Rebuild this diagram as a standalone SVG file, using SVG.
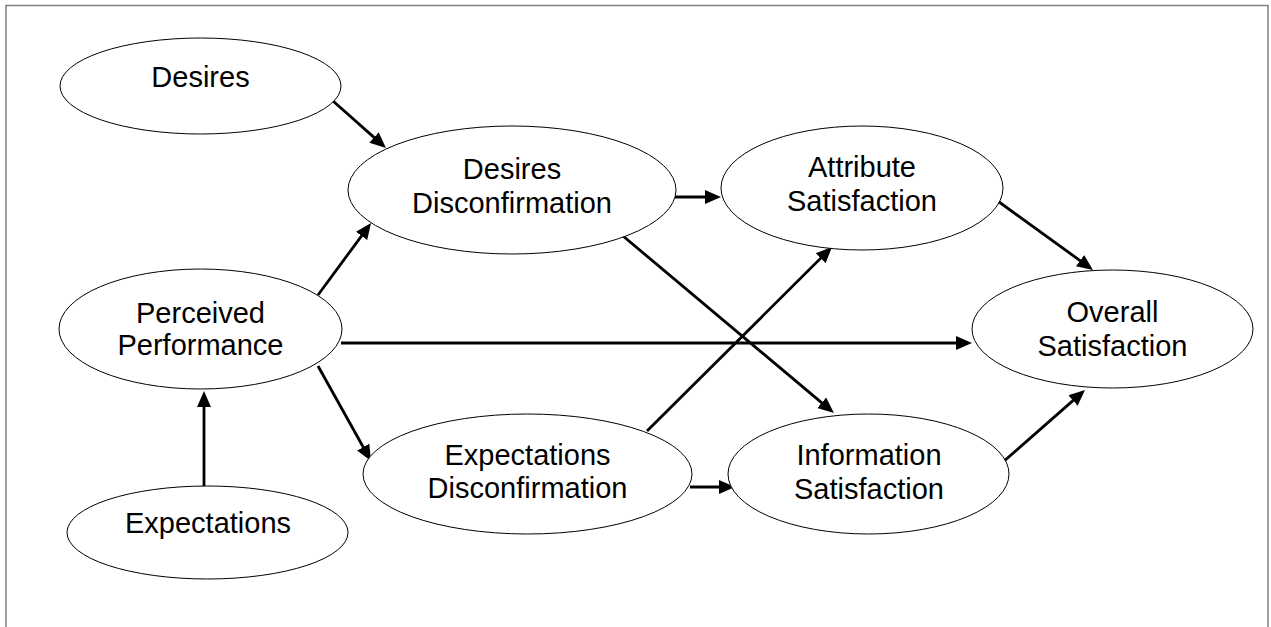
<svg xmlns="http://www.w3.org/2000/svg" width="1271" height="627" viewBox="0 0 1271 627">
  <style>
    .node ellipse { fill: #ffffff; stroke: #000000; stroke-width: 1; }
    .node text { font-family: "Liberation Sans", Arial, sans-serif; font-size: 29px; fill: #000000; text-anchor: middle; }
    .edge { stroke: #000000; stroke-width: 2.8; fill: none; marker-end: url(#arrow); }
    .frame { fill: none; stroke: #808080; stroke-width: 1.5; }
  </style>
  <defs>
    <marker id="arrow" markerUnits="userSpaceOnUse" markerWidth="18" markerHeight="16" refX="6" refY="8" orient="auto">
      <path d="M0,1 L16,8 L0,15 Z" fill="#000000"/>
    </marker>
  </defs>

  <rect width="1271" height="627" fill="#ffffff"/>
  <!-- outer frame, open at the bottom -->
  <path class="frame" d="M6,627 L6,5.5 L1268,5.5 L1268,627"/>

  <g id="connectors">
    <line class="edge" x1="333" y1="101" x2="378.5" y2="141.4"/>
    <line class="edge" x1="318" y1="295" x2="365.1" y2="231.1"/>
    <line class="edge" x1="341" y1="343" x2="962" y2="343"/>
    <line class="edge" x1="318" y1="366" x2="366.1" y2="452.3"/>
    <line class="edge" x1="204" y1="487" x2="204" y2="401"/>
    <line class="edge" x1="675" y1="197" x2="711" y2="197"/>
    <line class="edge" x1="623" y1="236" x2="826.3" y2="406.6"/>
    <line class="edge" x1="647" y1="431" x2="824.9" y2="254.1"/>
    <line class="edge" x1="690" y1="487" x2="725" y2="487"/>
    <line class="edge" x1="995" y1="199" x2="1084.9" y2="264.1"/>
    <line class="edge" x1="1003" y1="462" x2="1077.5" y2="396.6"/>
  </g>

  <g id="desires" class="node">
    <ellipse cx="200.5" cy="86" rx="140.5" ry="48"/>
    <text x="200.5" y="87">Desires</text>
  </g>
  <g id="desires-disconfirmation" class="node">
    <ellipse cx="512" cy="190" rx="164" ry="64"/>
    <text x="512" y="179">Desires</text>
    <text x="512" y="213">Disconfirmation</text>
  </g>
  <g id="attribute-satisfaction" class="node">
    <ellipse cx="862" cy="188" rx="141" ry="62"/>
    <text x="862" y="177">Attribute</text>
    <text x="862" y="211">Satisfaction</text>
  </g>
  <g id="perceived-performance" class="node">
    <ellipse cx="200.5" cy="329" rx="141.5" ry="60"/>
    <text x="200.5" y="323">Perceived</text>
    <text x="200.5" y="355">Performance</text>
  </g>
  <g id="overall-satisfaction" class="node">
    <ellipse cx="1112.5" cy="329" rx="140.5" ry="59"/>
    <text x="1112.5" y="322">Overall</text>
    <text x="1112.5" y="356">Satisfaction</text>
  </g>
  <g id="expectations-disconfirmation" class="node">
    <ellipse cx="527.5" cy="474" rx="164.5" ry="60"/>
    <text x="527.5" y="465">Expectations</text>
    <text x="527.5" y="498">Disconfirmation</text>
  </g>
  <g id="information-satisfaction" class="node">
    <ellipse cx="868.5" cy="474" rx="140.5" ry="60"/>
    <text x="869" y="465">Information</text>
    <text x="869" y="499">Satisfaction</text>
  </g>
  <g id="expectations" class="node">
    <ellipse cx="207.5" cy="532.5" rx="140.5" ry="46.5"/>
    <text x="208" y="533">Expectations</text>
  </g>
</svg>
